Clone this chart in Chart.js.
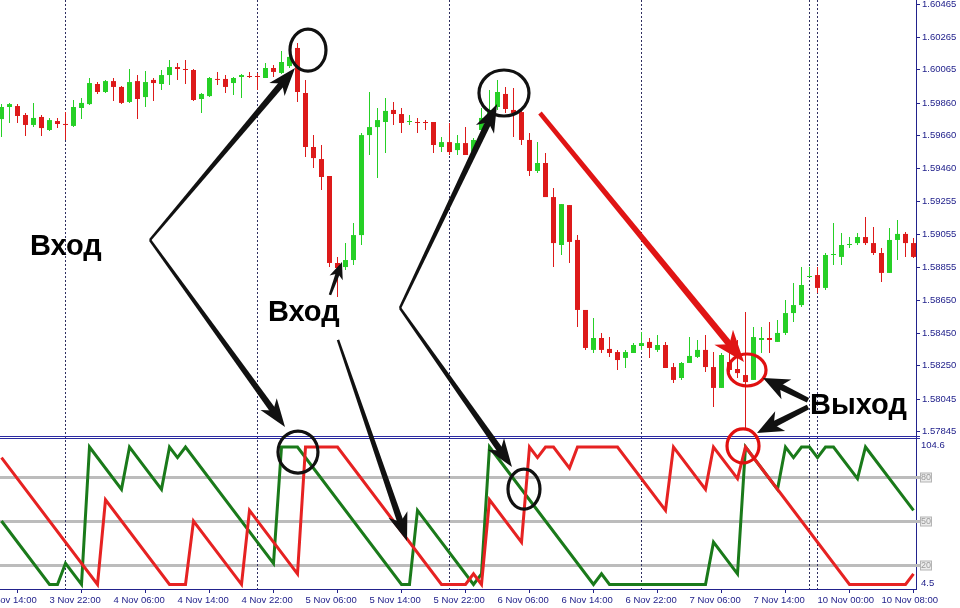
<!DOCTYPE html>
<html lang="ru">
<head>
<meta charset="utf-8">
<title>Aroon — вход / выход</title>
<script src="https://cdn.jsdelivr.net/npm/chart.js@4.4.1/dist/chart.umd.min.js"></script>
<style>
html,body{margin:0;padding:0;background:#ffffff;overflow:hidden;}
canvas{display:block;}
</style>
</head>
<body>
<canvas id="chart" width="960" height="608"></canvas>
<script>
// ===================== DATA =====================
const openP = [
1.59762,1.59836,1.59842,1.59787,1.59726,1.59775,1.59695,1.59750,1.59732,1.59720,
1.59830,1.59854,1.59977,1.59928,1.59995,1.59959,1.59867,1.59995,1.59897,1.60002,
1.59977,1.60032,1.60081,1.60069,1.60063,1.59885,1.59903,1.60008,1.60008,1.59983,
1.60020,1.60026,1.60026,1.60014,1.60075,1.60045,1.60087,1.60198,1.59922,1.59591,
1.59517,1.59413,1.58880,1.58855,1.58898,1.59051,1.59664,1.59713,1.59744,1.59818,
1.59793,1.59744,1.59744,1.59744,1.59744,1.59591,1.59621,1.59572,1.59615,1.59560,
1.59695,1.59756,1.59836,1.59916,1.59818,1.59805,1.59634,1.59444,1.59493,1.59284,
1.58990,1.59235,1.59021,1.58592,1.58347,1.58420,1.58353,1.58334,1.58298,1.58328,
1.58371,1.58396,1.58347,1.58377,1.58242,1.58175,1.58267,1.58304,1.58347,1.58242,
1.58114,1.58273,1.58230,1.58193,1.58163,1.58408,1.58420,1.58396,1.58451,1.58573,
1.58622,1.58794,1.58806,1.58727,1.58929,1.58917,1.58990,1.59002,1.59039,1.59002,
1.58941,1.58819,1.59021,1.59058,1.59002];
const highP = [
1.59854,1.59861,1.59854,1.59799,1.59861,1.59787,1.59769,1.59769,1.59805,1.59879,
1.59891,1.60014,1.59989,1.60002,1.60014,1.59965,1.60069,1.60032,1.60057,1.60014,
1.60063,1.60124,1.60106,1.60124,1.60069,1.59922,1.60020,1.60051,1.60032,1.60020,
1.60038,1.60051,1.60045,1.60106,1.60094,1.60179,1.60185,1.60228,1.60002,1.59664,
1.59603,1.59413,1.58917,1.59002,1.59125,1.59677,1.59928,1.59830,1.59891,1.59867,
1.59830,1.59787,1.59769,1.59756,1.59744,1.59652,1.59738,1.59664,1.59713,1.59646,
1.59830,1.59940,1.60002,1.59959,1.59953,1.59830,1.59677,1.59621,1.59554,1.59340,
1.59241,1.59235,1.59051,1.58592,1.58543,1.58451,1.58426,1.58347,1.58347,1.58389,
1.58457,1.58420,1.58438,1.58396,1.58267,1.58273,1.58426,1.58408,1.58438,1.58334,
1.58328,1.58347,1.58408,1.58579,1.58488,1.58488,1.58518,1.58530,1.58653,1.58757,
1.58855,1.58855,1.58855,1.58941,1.59125,1.59064,1.59039,1.59064,1.59162,1.59100,
1.58972,1.59094,1.59143,1.59070,1.59033];
const lowP = [
1.59652,1.59738,1.59738,1.59658,1.59713,1.59658,1.59689,1.59707,1.59634,1.59713,
1.59762,1.59848,1.59916,1.59922,1.59873,1.59854,1.59861,1.59762,1.59836,1.59873,
1.59940,1.59971,1.60002,1.59977,1.59873,1.59799,1.59897,1.59971,1.59922,1.59910,
1.59891,1.60014,1.59940,1.60014,1.60020,1.60038,1.60075,1.59867,1.59530,1.59462,
1.59327,1.58855,1.58671,1.58837,1.58868,1.58990,1.59542,1.59401,1.59554,1.59726,
1.59677,1.59726,1.59677,1.59695,1.59554,1.59560,1.59542,1.59542,1.59542,1.59554,
1.59695,1.59744,1.59818,1.59799,1.59652,1.59603,1.59413,1.59431,1.59284,1.58855,
1.58929,1.58880,1.58488,1.58347,1.58328,1.58328,1.58304,1.58224,1.58236,1.58328,
1.58347,1.58298,1.58334,1.58236,1.58144,1.58163,1.58267,1.58298,1.58212,1.57997,
1.58114,1.58212,1.58175,1.57856,1.58163,1.58328,1.58328,1.58396,1.58438,1.58518,
1.58610,1.58794,1.58696,1.58714,1.58868,1.58868,1.58972,1.58990,1.58990,1.58929,
1.58763,1.58819,1.58898,1.58917,1.58910];
const closeP = [
1.59836,1.59854,1.59781,1.59726,1.59769,1.59707,1.59756,1.59732,1.59726,1.59836,
1.59861,1.59983,1.59928,1.59995,1.59959,1.59861,1.59989,1.59885,1.59989,1.59983,
1.60032,1.60081,1.60069,1.60063,1.59879,1.59916,1.60014,1.60002,1.59959,1.60014,
1.60032,1.60020,1.60020,1.60075,1.60051,1.60112,1.60143,1.59928,1.59591,1.59523,
1.59407,1.58880,1.58849,1.58898,1.59051,1.59664,1.59713,1.59756,1.59812,1.59793,
1.59738,1.59750,1.59738,1.59738,1.59603,1.59621,1.59560,1.59615,1.59542,1.59634,
1.59769,1.59818,1.59928,1.59824,1.59799,1.59634,1.59444,1.59493,1.59284,1.59002,
1.59241,1.59009,1.58592,1.58359,1.58420,1.58347,1.58328,1.58285,1.58334,1.58377,
1.58389,1.58359,1.58377,1.58236,1.58163,1.58267,1.58310,1.58347,1.58242,1.58114,
1.58316,1.58224,1.58205,1.58150,1.58426,1.58420,1.58408,1.58451,1.58573,1.58622,
1.58745,1.58800,1.58727,1.58929,1.58935,1.58990,1.58996,1.59039,1.59002,1.58941,
1.58819,1.59021,1.59058,1.59002,1.58917];

// Aroon(14) turning points (bar index, value)
const aroonUpIdx = [0,6,7,8,10,11,15,16,20,21,22,23,34,35,37,50,51,52,59,60,61,74,75,76,88,89,92,93,97,98,99,100,101,102,103,104,107,108,114];
const aroonUpVal = [50,7.14,7.14,21.43,7.14,100,71.43,100,71.43,100,92.86,100,21.43,100,100,7.14,7.14,57.14,7.14,14.29,100,7.14,14.29,7.14,7.14,35.71,14.29,100,71.43,100,92.86,100,100,92.86,100,100,78.57,100,57.14];
const aroonDnIdx = [0,12,13,21,23,24,30,31,37,38,42,55,58,59,60,61,65,66,67,68,69,71,72,77,83,84,88,89,92,93,106,113,114];
const aroonDnVal = [92.86,7.14,64.29,7.14,7.14,50,7.14,57.14,14.29,100,100,7.14,7.14,14.29,7.14,64.29,35.71,100,92.86,100,100,85.71,100,100,57.14,100,71.43,100,78.57,100,7.14,7.14,14.29];
const aroonLevels = [80, 50, 20];
const aroonScaleLabels = [104.6, 4.5];

const priceTicks = [1.57845,1.58045,1.58250,1.58450,1.58650,1.58855,1.59055,1.59255,1.59460,1.59660,1.59860,1.60065,1.60265,1.60465];
const timeTickIdx = [-2,6,14,22,30,38,46,54,62,70,78,86,94,102,110];
const timeTickLabels = ['3 Nov 14:00','3 Nov 22:00','4 Nov 06:00','4 Nov 14:00','4 Nov 22:00','5 Nov 06:00','5 Nov 14:00','5 Nov 22:00','6 Nov 06:00','6 Nov 14:00','6 Nov 22:00','7 Nov 06:00','7 Nov 14:00','10 Nov 00:00','10 Nov 08:00'];
const daySeparatorIdx = [8, 32, 56, 80, 101, 102];

// visible ranges
const xView = [-0.1875, 114.3125];
const priceView = [1.578132, 1.60492];
const aroonView = [4.054, 106.757];

// annotations (anchored to bar index + pane value)
const noteTexts = [
  {text:'Вход',  i:3.56,   pane:'price', v:1.58929},
  {text:'Вход',  i:33.3,   pane:'price', v:1.58524},
  {text:'Выход', i:101.06, pane:'price', v:1.57954}
];
const noteCircles = [
  {i:38.31, pane:'price', v:1.60185, rx:18, ry:21, red:false},
  {i:62.81, pane:'price', v:1.59922, rx:25, ry:23, red:false},
  {i:37.06, pane:'aroon', v:96.6,    rx:20, ry:21, red:false},
  {i:65.31, pane:'aroon', v:71.6,    rx:16, ry:20, red:false},
  {i:93.19, pane:'price', v:1.58224, rx:19, ry:16, red:true},
  {i:92.69, pane:'aroon', v:100.7,   rx:16, ry:17, red:true}
];
const noteArrows = [
  {a:{i:18.56, pane:'price', v:1.59021}, b:{i:36.69, pane:'price', v:1.60075}, kind:'taper'},
  {a:{i:18.56, pane:'price', v:1.59021}, b:{i:35.44, pane:'price', v:1.57875}, kind:'taper'},
  {a:{i:41.06, pane:'price', v:1.58684}, b:{i:42.56, pane:'price', v:1.58886}, kind:'small'},
  {a:{i:42.06, pane:'price', v:1.58408}, b:{i:50.69, pane:'aroon', v:36.5},    kind:'taper'},
  {a:{i:49.81, pane:'price', v:1.58604}, b:{i:61.94, pane:'price', v:1.59854}, kind:'taper'},
  {a:{i:49.81, pane:'price', v:1.58604}, b:{i:63.81, pane:'aroon', v:86.5},    kind:'taper'},
  {a:{i:67.31, pane:'price', v:1.59799}, b:{i:92.81, pane:'price', v:1.58273}, kind:'red'},
  {a:{i:100.81,pane:'price', v:1.58039}, b:{i:95.19, pane:'price', v:1.58175}, kind:'thick'},
  {a:{i:100.81,pane:'price', v:1.57997}, b:{i:94.44, pane:'price', v:1.57838}, kind:'thick'}
];

// ===================== STYLE =====================
const NAVY = '#22228c';
const GREEN = '#26d026', RED = '#dd1a1a';
const FONT = '"Liberation Sans", Arial, sans-serif';
Chart.defaults.font.family = FONT;

const idx = openP.map((_, i) => i);
const candleColors = idx.map(i => closeP[i] >= openP[i] ? GREEN : RED);

function drawArrow(ctx, x1, y1, x2, y2, color, wTail, wHead, headLen, headHalf) {
  const dx = x2 - x1, dy = y2 - y1, L = Math.hypot(dx, dy);
  const ux = dx / L, uy = dy / L, nx = -uy, ny = ux;
  const bx = x2 - ux * headLen * 0.6, by = y2 - uy * headLen * 0.6;
  ctx.fillStyle = color;
  ctx.beginPath();
  ctx.moveTo(x1 + nx * wTail / 2, y1 + ny * wTail / 2);
  ctx.lineTo(bx + nx * wHead / 2, by + ny * wHead / 2);
  ctx.lineTo(bx - nx * wHead / 2, by - ny * wHead / 2);
  ctx.lineTo(x1 - nx * wTail / 2, y1 - ny * wTail / 2);
  ctx.closePath();
  ctx.fill();
  const hx = x2 - ux * headLen, hy = y2 - uy * headLen;
  const kx = x2 - ux * headLen * 0.72, ky = y2 - uy * headLen * 0.72;
  ctx.beginPath();
  ctx.moveTo(x2, y2);
  ctx.lineTo(hx + nx * headHalf, hy + ny * headHalf);
  ctx.lineTo(kx, ky);
  ctx.lineTo(hx - nx * headHalf, hy - ny * headHalf);
  ctx.closePath();
  ctx.fill();
}

const overlay = {
  id: 'overlay',
  beforeDatasetsDraw(chart) {
    const {ctx, chartArea: ca, scales} = chart;
    const sx = scales.x, ya = scales.yAroon, yp = scales.yPrice;
    ctx.save();
    // level lines
    ctx.strokeStyle = '#bcbcbc';
    ctx.lineWidth = 3;
    aroonLevels.forEach(v => {
      const y = Math.round(ya.getPixelForValue(v)) + 0.5;
      ctx.beginPath(); ctx.moveTo(ca.left, y); ctx.lineTo(ca.right + 4, y); ctx.stroke();
    });
    // day separators
    ctx.strokeStyle = '#2e2e60';
    ctx.lineWidth = 1;
    ctx.setLineDash([2, 2]);
    daySeparatorIdx.forEach(i => {
      const x = Math.floor(sx.getPixelForValue(i)) + 0.5;
      ctx.beginPath(); ctx.moveTo(x, ca.top); ctx.lineTo(x, ca.bottom); ctx.stroke();
    });
    ctx.setLineDash([]);
    // pane separator (double line)
    ctx.strokeStyle = '#2a2aa0';
    const yb = yp.bottom;
    [yb - 0.5, yb + 1.5].forEach(y => {
      ctx.beginPath(); ctx.moveTo(ca.left, y); ctx.lineTo(ca.right + 4, y); ctx.stroke();
    });
    ctx.restore();
  },
  afterDatasetsDraw(chart) {
    const {ctx, scales} = chart;
    const sx = scales.x;
    const P = p => [sx.getPixelForValue(p.i), (p.pane === 'aroon' ? scales.yAroon : scales.yPrice).getPixelForValue(p.v)];
    ctx.save();
    // circles
    noteCircles.forEach(c => {
      const [x, y] = P(c);
      ctx.strokeStyle = c.red ? '#e01010' : '#111111';
      ctx.lineWidth = 3.2;
      ctx.beginPath(); ctx.ellipse(x, y, c.rx, c.ry, 0, 0, Math.PI * 2); ctx.stroke();
    });
    // arrows
    noteArrows.forEach(a => {
      const [x1, y1] = P(a.a), [x2, y2] = P(a.b);
      if (a.kind === 'red') drawArrow(ctx, x1, y1, x2, y2, '#e01414', 4.5, 6.5, 32, 12);
      else if (a.kind === 'thick') drawArrow(ctx, x1, y1, x2, y2, '#111111', 5, 6.5, 26, 11);
      else if (a.kind === 'small') drawArrow(ctx, x1, y1, x2, y2, '#111111', 2.5, 4.5, 17, 7);
      else drawArrow(ctx, x1, y1, x2, y2, '#111111', 2.5, 6.5, 28, 10);
    });
    // texts
    ctx.fillStyle = '#000000';
    ctx.font = 'bold 29px ' + FONT;
    ctx.textAlign = 'left';
    ctx.textBaseline = 'alphabetic';
    noteTexts.forEach(t => { const [x, y] = P(t); ctx.fillText(t.text, x, y); });
    ctx.restore();
  },
  afterDraw(chart) {
    const {ctx, scales} = chart;
    const ya = scales.yAroon;
    ctx.save();
    // level labels in grey boxes
    ctx.font = '9px ' + FONT;
    ctx.textAlign = 'center';
    ctx.textBaseline = 'middle';
    aroonLevels.forEach(v => {
      const y = Math.round(ya.getPixelForValue(v)) + 0.5;
      ctx.fillStyle = '#ececec';
      ctx.strokeStyle = '#b4b4b4';
      ctx.lineWidth = 1;
      ctx.fillRect(920.5, y - 4.5, 11, 9);
      ctx.strokeRect(920.5, y - 4.5, 11, 9);
      ctx.fillStyle = '#9a9a9a';
      ctx.fillText(String(v), 926, y + 0.5);
    });
    // scale min / max labels of the indicator pane
    ctx.font = '9.5px ' + FONT;
    ctx.textAlign = 'left';
    ctx.fillStyle = NAVY;
    aroonScaleLabels.forEach(v => {
      let y = ya.getPixelForValue(v);
      y = Math.min(Math.max(y, ya.top + 8.5), ya.bottom - 6);
      ctx.fillText(String(v), 921, y);
    });
    ctx.restore();
  }
};

const fixY = s => { s.width = 44; s.paddingTop = 0; s.paddingBottom = 0; };

new Chart(document.getElementById('chart'), {
  type: 'bar',
  data: {
    datasets: [
      { type: 'line', label: 'Aroon Down', data: aroonDnIdx.map((x, k) => ({x, y: aroonDnVal[k]})),
        xAxisID: 'x', yAxisID: 'yAroon', borderColor: '#e62222', borderWidth: 3,
        pointRadius: 0, tension: 0, fill: false, borderJoinStyle: 'miter' },
      { type: 'line', label: 'Aroon Up', data: aroonUpIdx.map((x, k) => ({x, y: aroonUpVal[k]})),
        xAxisID: 'x', yAxisID: 'yAroon', borderColor: '#1a7a1a', borderWidth: 3,
        pointRadius: 0, tension: 0, fill: false, borderJoinStyle: 'miter' },
      { type: 'bar', label: 'Body', data: idx.map(i => ({x: i, y: [openP[i], closeP[i]]})),
        xAxisID: 'x', yAxisID: 'yPrice', backgroundColor: candleColors, barThickness: 5,
        minBarLength: 1, grouped: false, borderWidth: 0, inflateAmount: 0 },
      { type: 'bar', label: 'Wick', data: idx.map(i => ({x: i, y: [lowP[i], highP[i]]})),
        xAxisID: 'x', yAxisID: 'yPrice', backgroundColor: candleColors, barThickness: 1,
        minBarLength: 1, grouped: false, borderWidth: 0, inflateAmount: 0 }
    ]
  },
  options: {
    responsive: false,
    animation: false,
    events: [],
    layout: { padding: 0, autoPadding: false },
    plugins: { legend: { display: false }, tooltip: { enabled: false }, title: { display: false } },
    scales: {
      x: {
        type: 'linear', position: 'bottom', min: xView[0], max: xView[1], bounds: 'data', offset: false,
        afterBuildTicks: s => { s.ticks = timeTickIdx.map(v => ({value: v})); },
        afterFit: s => { s.height = 19; s.paddingLeft = 0; s.paddingRight = 0; },
        ticks: { autoSkip: false, maxRotation: 0, minRotation: 0, align: 'start', padding: 2,
          color: NAVY, font: { size: 9.5, family: FONT },
          callback: (v, i) => timeTickLabels[i] },
        grid: { drawOnChartArea: false, drawTicks: true, tickLength: 4, color: NAVY },
        border: { display: true, color: NAVY }
      },
      yPrice: {
        type: 'linear', position: 'right', stack: 'panes', stackWeight: 437,
        min: priceView[0], max: priceView[1], bounds: 'data',
        afterBuildTicks: s => { s.ticks = priceTicks.map(v => ({value: v})); },
        afterFit: fixY,
        ticks: { autoSkip: false, padding: 2, color: NAVY, font: { size: 9.5, family: FONT },
          callback: v => Number(v).toFixed(5) },
        grid: { drawOnChartArea: false, drawTicks: true, tickLength: 4, color: NAVY },
        border: { display: true, color: NAVY }
      },
      yAroon: {
        type: 'linear', position: 'right', stack: 'panes', stackWeight: 152,
        min: aroonView[0], max: aroonView[1], bounds: 'data',
        afterFit: fixY,
        ticks: { display: false },
        grid: { display: false },
        border: { display: true, color: NAVY }
      }
    }
  },
  plugins: [overlay]
});
</script>
</body>
</html>
